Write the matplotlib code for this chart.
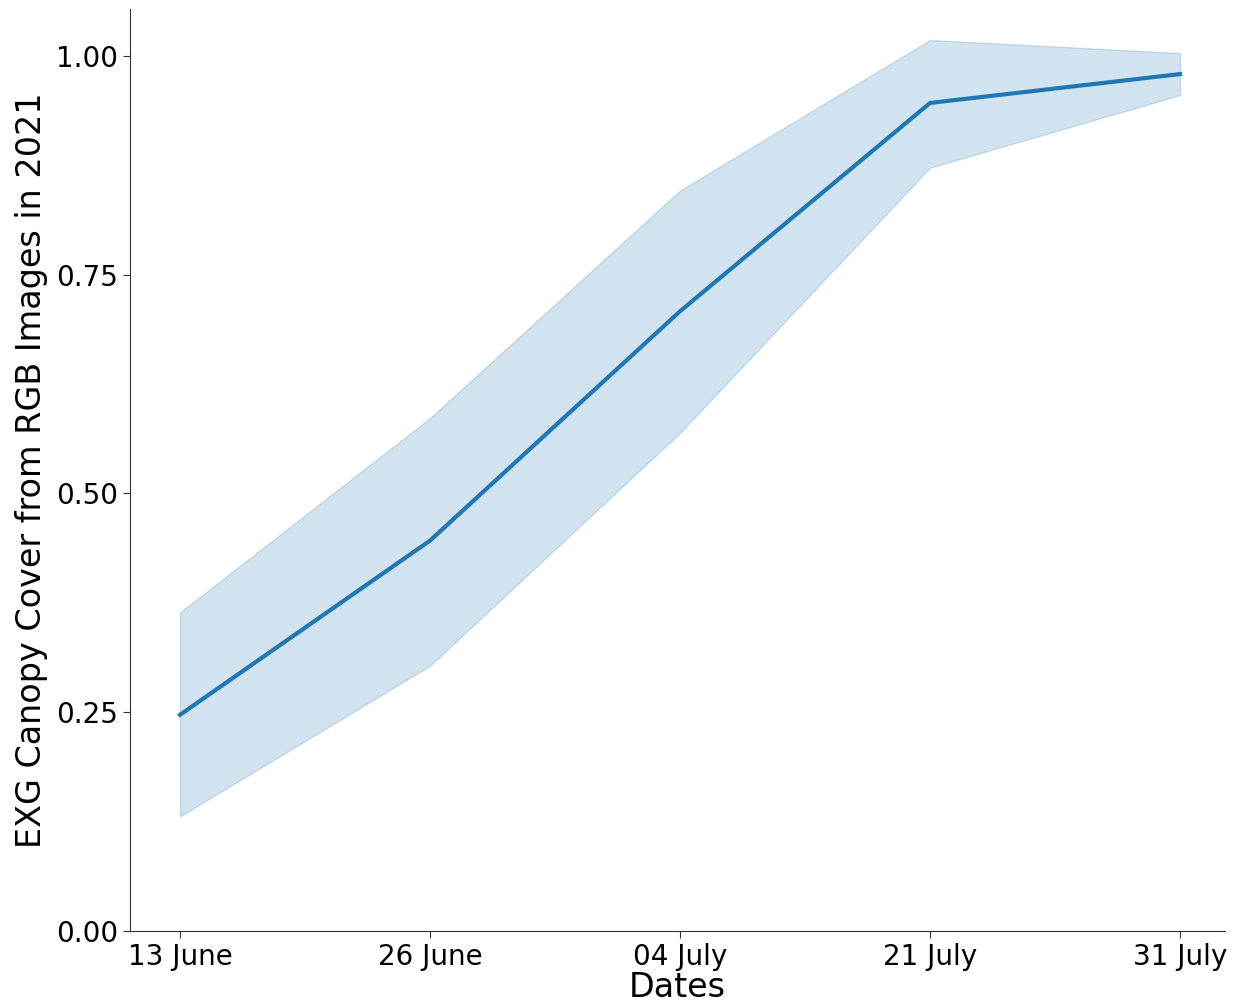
import numpy as np
import matplotlib
matplotlib.use('Agg')
import matplotlib.pyplot as plt

dates = ['13 June', '26 June', '04 July', '21 July', '31 July']
mean_cover = [0.247, 0.446, 0.708, 0.946, 0.979]
ci_upper = [0.364, 0.586, 0.846, 1.018, 1.003]
ci_lower = [0.131, 0.303, 0.569, 0.872, 0.955]

W, H = 1238, 1006
fig = plt.figure(figsize=(W / 100, H / 100), dpi=100)
# axes box in pixels: left, right, top, bottom
l, r, t, b = 130, 1225, 9.3, 931
ax = fig.add_axes([l / W, (H - b) / H, (r - l) / W, (b - t) / H])

x = np.arange(len(dates))
ax.fill_between(x, ci_lower, ci_upper, color='#1f77b4', alpha=0.2, linewidth=1)
ax.plot(x, mean_cover, color='#1f77b4', linewidth=3)

ax.set_xlim(-0.2, 4.18)
ax.set_ylim(0, 1.053)
ax.set_xticks(x)
ax.set_xticklabels(dates)
ax.set_yticks([0, 0.25, 0.5, 0.75, 1.0])
ax.set_yticklabels(['0.00', '0.25', '0.50', '0.75', '1.00'])
ax.tick_params(labelsize=20, length=5, colors='#333333', labelcolor='black')
ax.set_xlabel('Dates', fontsize=24, labelpad=0)
ax.set_ylabel('EXG Canopy Cover from RGB Images in 2021', fontsize=24, labelpad=6)
ax.spines['top'].set_visible(False)
ax.spines['right'].set_visible(False)
ax.spines['left'].set_color('#333333')
ax.spines['bottom'].set_color('#333333')

fig.savefig('out.png', dpi=100)
